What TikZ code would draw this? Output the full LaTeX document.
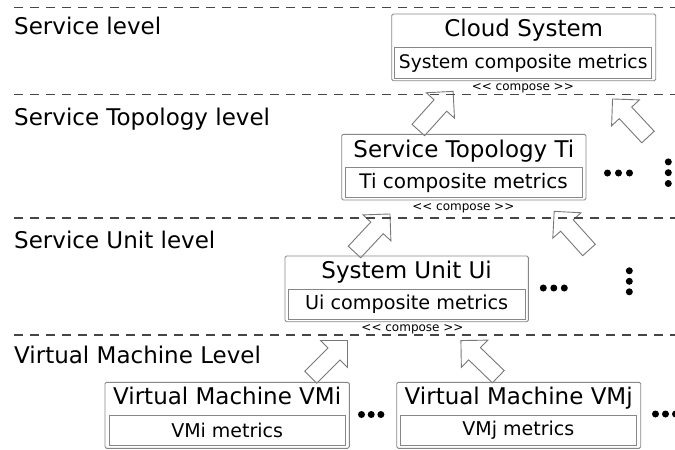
\documentclass[tikz,border=0pt]{standalone}
\usepackage{fontspec}
\setmainfont{DejaVu Sans}
\definecolor{boxgray}{RGB}{135,135,135}
\definecolor{dashgray}{RGB}{70,70,70}
\definecolor{arrowgray}{RGB}{120,120,120}
\begin{document}
\begin{tikzpicture}[x=1pt,y=-1pt,
  outerbox/.style={draw=boxgray, line width=0.9pt, rounded corners=1.5pt, inner sep=0pt},
  innerbox/.style={draw=boxgray, line width=0.9pt, inner sep=0pt},
  boxtitle/.style={font=\fontsize{23}{27}\selectfont, anchor=base, inner sep=0pt},
  levellabel/.style={font=\fontsize{23}{27}\selectfont, anchor=base west, inner sep=0pt},
  composelabel/.style={font=\fontsize{12}{14}\selectfont, anchor=base, inner sep=0pt},
  levelline/.style={draw=dashgray, line width=1.2pt, dash pattern=on 8.7pt off 7.3pt},
  bigdot/.style={circle, fill=black, inner sep=0pt, minimum size=7pt},
  blockarrowline/.style={draw=arrowgray, line width=0.9pt, fill=white, line join=miter},
  blockarrow/.pic={\path[blockarrowline] (0,-8.5) -- (33,-8.5) -- (33,-19) -- (52,0) -- (33,19) -- (33,8.5) -- (0,8.5) -- cycle;}]
\useasboundingbox (0,0) rectangle (675,450);
\clip (0,0) rectangle (675,450);

% level labels
\node[levellabel] (lvlservice) at (14,34.3) {Service level};
\node[levellabel] (lvltopo) at (14,125) {Service Topology level};
\node[levellabel] (lvlunit) at (14,248.3) {Service Unit level};
\node[levellabel] (lvlvm) at (14,363.3) {Virtual Machine Level};

% block arrows
\pic[rotate=48] at (418.3,130) {blockarrow};
\pic[rotate=133] at (648,137) {blockarrow};
\pic[rotate=47] at (354.5,252) {blockarrow};
\pic[rotate=132] at (589,250) {blockarrow};
\pic[rotate=45] at (310.7,377.3) {blockarrow};
\pic[rotate=136] at (498.3,376.7) {blockarrow};

% dashed level lines
\coordinate (d1a) at (14,7.3);  \coordinate (d1b) at (675,7.3);
\coordinate (d2a) at (14,94.3); \coordinate (d2b) at (675,94.3);
\coordinate (d3a) at (14,218);  \coordinate (d3b) at (675,218);
\coordinate (d4a) at (14,335);  \coordinate (d4b) at (675,335);
\draw[levelline] (d1a) -- (d1b);
\draw[levelline] (d2a) -- (d2b);
\draw[levelline] (d3a) -- (d3b);
\draw[levelline] (d4a) -- (d4b);

% Cloud System
\node[outerbox, minimum width=264pt, minimum height=66.7pt] (cloud) at (523.7,47.35) {};
\node[boxtitle] (cloudt) at (523.7,36) {Cloud System};
\node[innerbox, minimum width=257pt, minimum height=30.6pt, font=\fontsize{18.7}{22}\selectfont] (cloudm) at (523.2,63) {System composite metrics};
\node[composelabel] (cloudc) at (522.8,90.2) {<{}< compose >{}>};

% Service Topology
\node[outerbox, minimum width=244.3pt, minimum height=65.7pt] (topo) at (463.85,167.15) {};
\node[boxtitle] (topot) at (463.85,157.3) {Service Topology Ti};
\node[innerbox, minimum width=237.3pt, minimum height=30pt, font=\fontsize{20}{24}\selectfont] (topom) at (463.65,182.7) {Ti composite metrics};
\node[composelabel] (topoc) at (463.3,210.2) {<{}< compose >{}>};
\node[bigdot] (td1) at (607.5,173) {};
\node[bigdot] (td2) at (618.5,173) {};
\node[bigdot] (td3) at (629.5,173) {};
\node[bigdot] (tv1) at (668.3,161.9) {};
\node[bigdot] (tv2) at (668.3,172.7) {};
\node[bigdot] (tv3) at (668.3,183.5) {};

% System Unit
\node[outerbox, minimum width=243.3pt, minimum height=65.7pt] (unit) at (406.65,288.85) {};
\node[boxtitle] (unitt) at (406.65,278.5) {System Unit Ui};
\node[innerbox, minimum width=236.7pt, minimum height=30pt, font=\fontsize{19.2}{23}\selectfont] (unitm) at (406.65,304.3) {Ui composite metrics};
\node[composelabel] (unitc) at (412.5,331.2) {<{}< compose >{}>};
\node[bigdot] (ud1) at (543.3,288) {};
\node[bigdot] (ud2) at (553.8,288) {};
\node[bigdot] (ud3) at (564.3,288) {};
\node[bigdot] (uv1) at (629.3,270.8) {};
\node[bigdot] (uv2) at (629.3,281.3) {};
\node[bigdot] (uv3) at (629.3,291.8) {};

% Virtual Machines
\node[outerbox, minimum width=244.3pt, minimum height=66pt] (vmi) at (227.15,415.3) {};
\node[boxtitle] (vmit) at (227.15,404.8) {Virtual Machine VMi};
\node[innerbox, minimum width=235.7pt, minimum height=30pt, font=\fontsize{19}{23}\selectfont] (vmim) at (227.15,430) {VMi metrics};
\node[bigdot] (vd1) at (361.5,414.5) {};
\node[bigdot] (vd2) at (371.2,414.5) {};
\node[bigdot] (vd3) at (380.9,414.5) {};

\node[outerbox, minimum width=244pt, minimum height=66pt] (vmj) at (518.7,415.3) {};
\node[boxtitle] (vmjt) at (518.7,404.8) {Virtual Machine VMj};
\node[innerbox, minimum width=236.7pt, minimum height=30pt, font=\fontsize{19}{23}\selectfont] (vmjm) at (518.35,430) {VMj metrics};
\node[bigdot] (wd1) at (655.5,414) {};
\node[bigdot] (wd2) at (665.5,414) {};
\node[bigdot] (wd3) at (675.5,414) {};
\end{tikzpicture}
\end{document}
